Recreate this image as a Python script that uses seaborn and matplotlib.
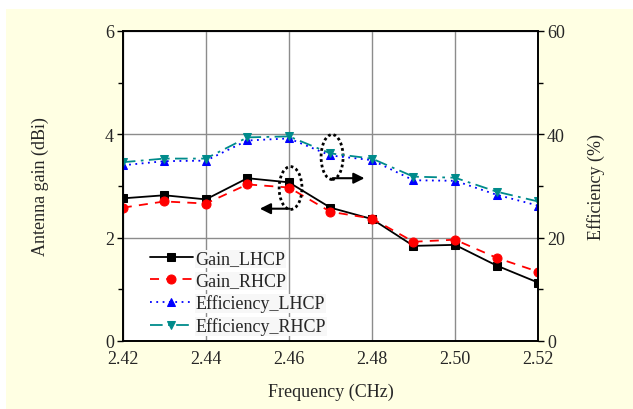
import pandas as pd
import matplotlib
matplotlib.use("Agg")
import matplotlib.pyplot as plt
import seaborn as sns
from matplotlib.patches import Ellipse, Rectangle

# data
freq = [2.42, 2.43, 2.44, 2.45, 2.46, 2.47, 2.48, 2.49, 2.50, 2.51, 2.52]
gain_lhcp = [2.76, 2.82, 2.74, 3.15, 3.07, 2.58, 2.36, 1.84, 1.86, 1.46, 1.13]
gain_rhcp = [2.58, 2.70, 2.66, 3.03, 2.97, 2.50, 2.37, 1.92, 1.96, 1.61, 1.34]
eff_lhcp = [34.0, 34.8, 34.9, 38.8, 39.2, 35.9, 35.0, 31.1, 31.0, 28.3, 26.2]
eff_rhcp = [34.6, 35.3, 35.3, 39.4, 39.6, 36.3, 35.3, 31.8, 31.6, 28.9, 27.0]

df = pd.DataFrame({"freq": freq, "gain_lhcp": gain_lhcp, "gain_rhcp": gain_rhcp,
                   "eff_lhcp": eff_lhcp, "eff_rhcp": eff_rhcp})

sns.set_style("white")
plt.rcParams['font.family'] = ['Liberation Serif', 'DejaVu Serif']
FS = 13

fig = plt.figure(figsize=(6.33, 4.10), dpi=100, facecolor="white")
# yellow panel behind everything
fig.patches.append(Rectangle((6 / 633, 0), 1, 400 / 410, transform=fig.transFigure,
                             facecolor="#FFFFE3", edgecolor="none", zorder=-10))
ax = fig.add_axes([0.194, 0.166, 0.656, 0.756])
ax.set_facecolor("white")
ax2 = ax.twinx()

sns.lineplot(data=df, x="freq", y="gain_lhcp", ax=ax, color="black", marker="s",
             markersize=6, markeredgecolor="black", lw=1.3, label="Gain_LHCP", legend=False)
sns.lineplot(data=df, x="freq", y="gain_rhcp", ax=ax, color="red", marker="o",
             markersize=6.5, markeredgecolor="red", lw=1.3, linestyle=(0, (5, 4)),
             label="Gain_RHCP", legend=False)
sns.lineplot(data=df, x="freq", y="eff_lhcp", ax=ax2, color="blue", marker="^",
             markersize=6, markeredgecolor="blue", lw=1.3, linestyle=(0, (1, 2.5)),
             label="Efficiency_LHCP", legend=False)
sns.lineplot(data=df, x="freq", y="eff_rhcp", ax=ax2, color="#008B8B", marker="v",
             markersize=6, markeredgecolor="#008B8B", lw=1.3, linestyle=(0, (7, 3, 1.5, 3)),
             label="Efficiency_RHCP", legend=False)

ax.set_xlim(2.42, 2.52)
ax.set_ylim(0, 6)
ax2.set_ylim(0, 60)
ax.set_xticks([2.42, 2.44, 2.46, 2.48, 2.50, 2.52])
ax.set_xticklabels(["2.42", "2.44", "2.46", "2.48", "2.50", "2.52"])
ax.set_xticks([2.43, 2.45, 2.47, 2.49, 2.51], minor=True)
ax.set_yticks([0, 2, 4, 6])
ax.set_yticks([1, 3, 5], minor=True)
ax2.set_yticks([0, 20, 40, 60])
ax2.set_yticks([10, 30, 50], minor=True)

ax.grid(True, which="major", color="#8C8C8C", lw=1)
ax.set_axisbelow(True)
for a in (ax, ax2):
    for s in a.spines.values():
        s.set_color("black")
        s.set_linewidth(1.2)
    a.tick_params(which="both", direction="out", color="black", width=1,
                  labelsize=FS, pad=2)
    a.tick_params(which="major", length=4.5)
    a.tick_params(which="minor", length=3.5)

ax.set_xlabel("Frequency (CHz)", fontsize=FS)
ax.set_ylabel("Antenna gain (dBi)", fontsize=FS)
ax2.set_ylabel("Efficiency (%)", fontsize=FS)
ax.xaxis.set_label_coords(0.5, -0.135)
ax.yaxis.set_label_coords(-0.178, 0.5)
ax2.yaxis.set_label_coords(1.118, 0.5)

# annotation ellipses and arrows
ax.add_patch(Ellipse((2.4604, 2.96), 0.0055, 0.83, fill=False, edgecolor="black",
                     linestyle=(0, (1, 1)), lw=2, zorder=5))
ax.add_patch(Ellipse((2.4704, 3.56), 0.0053, 0.87, fill=False, edgecolor="black",
                     linestyle=(0, (1, 1)), lw=2, zorder=5))
ax.annotate("", xy=(2.4530, 2.56), xytext=(2.4602, 2.56),
            arrowprops=dict(arrowstyle="-|>", color="black", lw=1.5, mutation_scale=16,
                            shrinkA=0, shrinkB=0))
ax.annotate("", xy=(2.4782, 3.15), xytext=(2.4705, 3.15),
            arrowprops=dict(arrowstyle="-|>", color="black", lw=1.5, mutation_scale=16,
                            shrinkA=0, shrinkB=0))

h1, l1 = ax.get_legend_handles_labels()
h2, l2 = ax2.get_legend_handles_labels()
leg = ax2.legend(h1 + h2, l1 + l2, loc="lower left", bbox_to_anchor=(0.03, -0.028),
                 fontsize=FS, frameon=False, handlelength=2.4, handletextpad=0.15,
                 labelspacing=0.28, borderpad=0.3)
for t in leg.get_texts():
    t.set_bbox(dict(facecolor="#F7F7F7", edgecolor="none", pad=0.5))

fig.savefig("out.png", dpi=100, facecolor="white")
